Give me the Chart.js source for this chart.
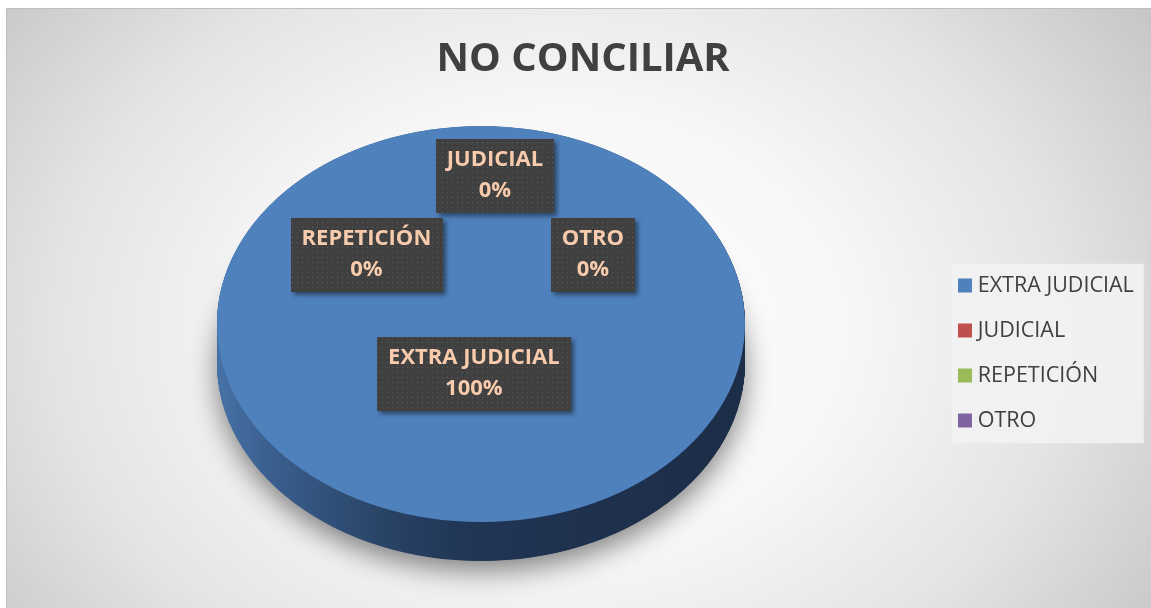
<!DOCTYPE html>
<html><head><meta charset="utf-8">
<script src="https://cdn.jsdelivr.net/npm/chart.js@4.4.1/dist/chart.umd.min.js"></script>
<style>html,body{margin:0;padding:0;background:#fff;overflow:hidden}
canvas{display:block}</style>
</head><body>
<canvas id="c" width="1151" height="608"></canvas>
<script>
// ---- data ----
const chartTitle = 'NO CONCILIAR';
const categories = ['EXTRA JUDICIAL', 'JUDICIAL', 'REPETICIÓN', 'OTRO'];
const values = [100, 0, 0, 0];

// ---- styles / layout ----
const sliceColors = ['#4f81bd', '#c0504d', '#9bbb59', '#8064a2'];
const TILT = 0.75;          // ellipse ratio of the 3D view
const DEPTH = 39;           // thickness of the pie, px
const PIE_SHIFT_Y = -20;    // vertical shift of projected pie
const LABEL_OFFSETS = [[-0.027, 0.25], [0.053, -0.75], [-0.434, -0.35], [0.424, -0.35]];
const LABEL_FONT = 'bold 22px "Open Sans"';

function dotPattern(ctx) {
  const c = document.createElement('canvas');
  c.width = 5; c.height = 5;
  const g = c.getContext('2d');
  g.fillStyle = '#404040'; g.fillRect(0, 0, 5, 5);
  g.fillStyle = '#5c5c5c'; g.fillRect(2, 2, 1, 1);
  return ctx.createPattern(c, 'repeat');
}

const backgroundPlugin = {
  id: 'bg',
  beforeDraw(chart) {
    const ctx = chart.ctx, W = chart.width, H = chart.height;
    ctx.save();
    ctx.fillStyle = '#ffffff';
    ctx.fillRect(0, 0, W, H);
    const fx = 6, fy = 8;
    ctx.save();
    ctx.beginPath(); ctx.rect(fx, fy, W - fx, H - fy); ctx.clip();
    const gx = 560, gy = 330, grx = 720, gry = 560;
    ctx.translate(gx, gy); ctx.scale(1, gry / grx);
    const g = ctx.createRadialGradient(0, 0, 0, 0, 0, grx);
    g.addColorStop(0, '#ffffff');
    g.addColorStop(0.4, '#f7f7f7');
    g.addColorStop(0.7, '#e4e4e4');
    g.addColorStop(1, '#c6c6c6');
    ctx.fillStyle = g;
    ctx.fillRect(-2000, -2000, 4000, 4000);
    ctx.restore();
    ctx.strokeStyle = '#bfbfbf'; ctx.lineWidth = 1;
    ctx.beginPath(); ctx.moveTo(fx + 0.5, H); ctx.lineTo(fx + 0.5, fy + 0.5); ctx.lineTo(W, fy + 0.5); ctx.stroke();
    // legend backdrop
    const lg = chart.legend;
    if (lg && lg.legendHitBoxes && lg.legendHitBoxes.length) {
      const hb = lg.legendHitBoxes;
      const left = hb[0].left - 11;
      const top = hb[0].top - 11;
      let right = 0;
      hb.forEach(h => { right = Math.max(right, h.left + h.width); });
      right += 10;
      const last = hb[hb.length - 1];
      const bottom = last.top + last.height + 12;
      ctx.fillStyle = 'rgba(242,242,242,0.9)';
      ctx.fillRect(left, top, right - left, bottom - top);
    }
    ctx.restore();
  }
};

const pie3dPlugin = {
  id: 'pie3d',
  beforeDatasetsDraw(chart) {
    const ctx = chart.ctx;
    const arcs = chart.getDatasetMeta(0).data;
    const p0 = arcs[0].getProps(['x', 'y', 'outerRadius'], true);
    const cx = p0.x, cy = p0.y, r = p0.outerRadius;
    ctx.save();
    ctx.translate(cx, cy + PIE_SHIFT_Y);
    ctx.scale(1, TILT);
    ctx.translate(-cx, -cy);
    const du = DEPTH / TILT;
    const grad = ctx.createLinearGradient(cx - r, 0, cx + r, 0);
    grad.addColorStop(0, '#4672a6');
    grad.addColorStop(0.1, '#3a5f8e');
    grad.addColorStop(0.3, '#2a4568');
    grad.addColorStop(0.45, '#213757');
    grad.addColorStop(0.6, '#1f3250');
    grad.addColorStop(1, '#1c2d47');
    let first = true;
    for (let d = du; d >= 0; d -= 0.7) {
      ctx.save();
      if (first) {
        ctx.shadowColor = 'rgba(0,0,0,0.48)';
        ctx.shadowBlur = 28;
        ctx.shadowOffsetY = 10;
        first = false;
      }
      ctx.fillStyle = grad;
      arcs.forEach(arc => {
        const p = arc.getProps(['x', 'y', 'startAngle', 'endAngle', 'outerRadius', 'circumference'], true);
        if (!(p.circumference > 0)) return;
        ctx.beginPath();
        ctx.arc(p.x, p.y + d, p.outerRadius, p.startAngle, p.endAngle);
        if (p.circumference < Math.PI * 2 - 1e-6) ctx.lineTo(p.x, p.y + d);
        ctx.closePath();
        ctx.fill();
      });
      ctx.restore();
    }
  },
  afterDatasetsDraw(chart) {
    const ctx = chart.ctx;
    ctx.restore();
    const arcs = chart.getDatasetMeta(0).data;
    const p0 = arcs[0].getProps(['x', 'y', 'outerRadius'], true);
    const cx = p0.x, cy = p0.y + PIE_SHIFT_Y, r = p0.outerRadius;
    const total = values.reduce((a, b) => a + b, 0);
    const pat = dotPattern(ctx);
    ctx.save();
    ctx.font = LABEL_FONT;
    categories.forEach((name, i) => {
      const pct = Math.round(values[i] / total * 100) + '%';
      const off = LABEL_OFFSETS[i];
      const lx = cx + off[0] * r;
      const ly = cy + off[1] * r * TILT;
      const w = Math.max(ctx.measureText(name).width, ctx.measureText(pct).width) + 22;
      const h = 74;
      ctx.save();
      ctx.shadowColor = 'rgba(0,0,0,0.45)';
      ctx.shadowBlur = 4;
      ctx.shadowOffsetX = 3;
      ctx.shadowOffsetY = 3;
      ctx.fillStyle = pat;
      ctx.fillRect(Math.round(lx - w / 2), Math.round(ly - h / 2), Math.round(w), h);
      ctx.restore();
      ctx.fillStyle = '#f8cbad';
      ctx.textAlign = 'center';
      ctx.textBaseline = 'middle';
      ctx.fillText(name, lx, ly - 15.5);
      ctx.fillText(pct, lx, ly + 15.5);
    });
    ctx.restore();
  }
};

new Chart(document.getElementById('c'), {
  type: 'pie',
  data: {
    labels: categories,
    datasets: [{
      data: values,
      backgroundColor: sliceColors,
      borderWidth: 0,
      hoverOffset: 0,
      clip: false
    }]
  },
  options: {
    responsive: false,
    animation: false,
    devicePixelRatio: 1,
    events: [],
    layout: { padding: { left: 22.5, right: 7.2, top: 0, bottom: 0 } },
    plugins: {
      title: {
        display: true,
        text: chartTitle,
        color: '#404040',
        font: { family: '"Open Sans"', size: 40, weight: 'bold', lineHeight: 1 },
        padding: { top: 40, bottom: 0 }
      },
      legend: {
        position: 'right',
        align: 'center',
        title: {
          display: true,
          text: '',
          font: { size: 12, lineHeight: 1 },
          padding: { top: 86, bottom: 0 }
        },
        labels: {
          usePointStyle: true,
          pointStyle: 'rect',
          boxWidth: 4,
          boxHeight: 14,
          padding: 23.5,
          color: '#404040',
          font: { family: '"Open Sans"', size: 21.5 }
        }
      },
      tooltip: { enabled: false }
    }
  },
  plugins: [backgroundPlugin, pie3dPlugin]
});
</script>
</body></html>
